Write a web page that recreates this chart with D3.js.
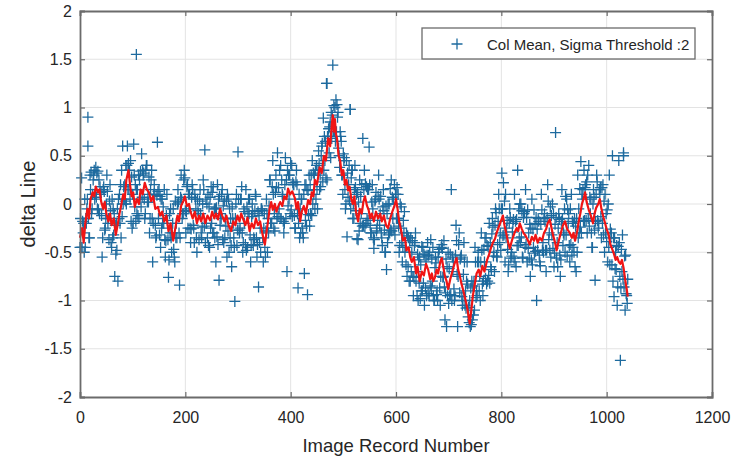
<!DOCTYPE html>
<html>
<head>
<meta charset="utf-8">
<script src="https://cdn.jsdelivr.net/npm/d3@7"></script>
<style>
  body { margin: 0; background: #fff; }
  svg { display: block; font-family: "Liberation Sans", Arial, sans-serif; }
  .axis path, .axis line { stroke: #6b6b6b; }
  .axis text { fill: #262626; font-size: 16px; }
  .grid line { stroke: #e3e3e3; }
</style>
</head>
<body>
<div id="chart"></div>
<script>
// tick values
var xTicks = [0, 200, 400, 600, 800, 1000, 1200];
var yTicks = [-2, -1.5, -1, -0.5, 0, 0.5, 1, 1.5, 2];

// col mean per image record, read in three interleaved passes
// pass A: records 0, 3, 6 ...   pass B: records 1, 4, 7 ...   pass C: records 2, 5, 8 ...
var recordStep = 3;
var colMeanA = [
  -0.45, 0.27, -0.3, 0.05, -0.2, 0.6, -0.35, 0.33, 0.1, 0.35,
  0.38, -0.05, 0.25, 0.1, -0.55, 0.18, -0.25, 0.3, -0.15, 0.2,
  -0.45, -0.05, -0.75, -0.2, -0.8, 0.1, -0.35, 0.6, 0.05, 0.4,
  0.6, 0.15, 0.45, -0.25, 0.62, 0.2, -0.1, 0.3, 0.05, 0.52,
  0.3, -0.15, 0.4, 0.1, -0.3, 0.25, -0.6, 0.2, -0.35, 0.64,
  0.15, -0.45, 0.05, -0.2, -0.55, 0.1, -0.76, -0.3, -0.5, -0.05,
  -0.6, -0.2, 0.15, -0.84, 0.3, -0.1, 0.35, -0.3, 0.2, -0.05,
  -0.4, 0.2, -0.25, 0.05, -0.5, -0.1, 0.15, -0.35, 0.25, 0.56,
  -0.2, 0.1, -0.45, 0.18, -0.3, -0.05, -0.6, 0.2, -0.79, -0.1,
  0.15, -0.4, -0.15, -0.55, 0.05, -0.35, -0.65, -0.2, -1.01, 0.1,
  0.54, -0.3, 0.05, -0.5, -0.2, 0.15, -0.45, -0.1, -0.6, 0.0,
  -0.35, 0.1, -0.55, -0.86, -0.25, -0.05, -0.6, -0.45, 0.05, -0.15,
  0.25, -0.2, 0.45, -0.1, 0.3, 0.53, -0.05, 0.4, 0.1, -0.3,
  0.48, -0.7, 0.3, -0.1, 0.4, 0.2, -0.25, 0.35, -0.87, -0.35,
  0.05, -0.3, -0.72, 0.2, -0.94, 0.3, -0.1, 0.45, 0.1, 0.35,
  0.15, 0.55, 0.3, 0.6, 0.89, 0.45, 1.25, 0.7, 0.8, 0.95,
  1.44, 0.75, 1.08, 0.9, 0.5, 0.7, 0.3, 0.45, -0.05, -0.34,
  0.2, 0.98, 0.35, 0.0, 0.4, 0.1, -0.37, 0.25, -0.1, 0.68,
  0.35, -0.2, 0.15, 0.59, -0.3, 0.2, -0.46, 0.05, -0.25, 0.3,
  -0.1, -0.35, 0.15, -0.5, -0.68, 0.0, -0.3, 0.25, -0.15, 0.2,
  0.1, -0.15, -0.5, -0.25, -0.6, -0.3, -0.45, -0.75, -0.35, -0.8,
  -0.5, -0.95, -0.4, -0.7, -1.0, -0.55, -0.9, -0.45, -1.05, -0.6,
  -0.4, -0.95, -0.37, -0.8, -1.0, -0.55, -0.9, -0.5, -1.05, -0.42,
  -0.75, -1.2, -1.27, -0.5, -0.95, 0.15, -0.7, -1.0, -0.22, -1.27,
  -0.3, -0.55, -1.05, -0.4, -0.9, -0.6, -1.07, -1.27, -0.8, -1.15,
  -0.45, -0.9, -0.5, -0.75, -0.3, -0.95, -0.6, -0.35, -0.8, -0.2,
  -0.65, -0.15, -0.5, -0.05, -0.55, 0.1, -0.3, 0.32, 0.22, -0.6,
  -0.25, -0.7, -0.05, -0.5, -0.2, 0.1, -0.65, 0.35, -0.35, 0.0,
  -0.55, -0.1, 0.15, -0.6, -0.3, -0.75, 0.05, -0.45, -0.2, -1.0,
  -0.15, -0.6, 0.1, -0.4, -0.1, -0.7, 0.2, -0.3, -0.55, 0.0,
  -0.65, 0.74, -0.4, -0.1, -0.75, 0.15, -0.3, -0.5, 0.05, -0.2,
  -0.6, 0.1, -0.45, -0.15, -0.7, 0.3, -0.3, 0.44, 0.05, 0.35,
  0.2, -0.3, 0.4, -0.1, -0.45, 0.15, -0.79, 0.3, -0.25, 0.1,
  -0.35, 0.2, -0.5, -0.1, -0.6, 0.3, -0.35, 0.5, -0.96, -0.5,
  -1.05, 0.45, -1.62, -0.7, 0.53, -1.1, -0.95
];
var colMeanB = [
  -0.15, -0.45, -0.2, -0.45, -0.05, -0.15, 0.3, -0.1, 0.25, 0.05,
  0.07, 0.34, -0.1, 0.12, -0.35, 0.13, -0.15, 0.13, -0.37, -0.07,
  0.05, -0.32, -0.22, -0.48, 0.05, -0.2, 0.35, 0.0, 0.2, 0.0,
  0.15, 0.35, -0.18, 0.1, 0.3, -0.18, 0.15, -0.15, 0.34, 0.07,
  0.32, -0.1, 0.4, 0.02, -0.15, 0.35, -0.2, 0.1, -0.33, 0.13,
  -0.32, 0.05, -0.2, 0.15, -0.38, -0.17, -0.58, -0.05, -0.3, -0.47,
  0.03, -0.35, 0.02, -0.35, 0.05, -0.1, 0.27, -0.08, -0.25, 0.1,
  -0.26, 0.15, -0.4, -0.05, 0.05, -0.37, -0.1, -0.24, 0.15, -0.4,
  0.0, -0.43, 0.07, -0.2, 0.18, -0.35, -0.04, -0.42, 0.08, -0.15,
  -0.37, 0.03, -0.23, 0.1, -0.5, -0.15, -0.03, -0.35, -0.15, -0.43,
  0.05, -0.25, 0.18, -0.4, -0.08, -0.48, -0.1, 0.05, -0.43, -0.1,
  -0.37, 0.08, -0.42, -0.12, -0.5, -0.07, -0.25, -0.55, -0.1, -0.3,
  0.25, -0.2, 0.1, -0.28, 0.17, -0.13, 0.35, -0.15, 0.08, -0.2,
  -0.15, 0.35, 0.05, 0.42, -0.13, 0.2, -0.25, 0.2, -0.2, -0.05,
  0.05, -0.35, 0.2, -0.23, 0.14, -0.23, 0.3, 0.0, 0.3, 0.05,
  -0.05, 0.42, 0.18, 0.63, 0.35, 0.65, 0.25, 0.78, 0.85, 0.68,
  0.75, 1.0, 0.75, 0.95, 0.38, 0.65, 0.1, 0.48, 0.0, 0.32,
  0.4, -0.05, 0.35, -0.15, 0.17, -0.36, 0.02, -0.2, 0.2, -0.22,
  -0.24, 0.18, -0.17, 0.2, -0.3, -0.05, -0.37, 0.12, -0.17, 0.05,
  0.08, -0.43, -0.07, -0.5, -0.1, -0.32, 0.16, -0.28, 0.05, -0.32,
  -0.15, 0.1, -0.43, -0.03, -0.45, -0.08, -0.63, -0.33, -0.8, -0.35,
  -0.38, -0.76, -0.3, -0.95, -0.58, -0.98, -0.44, -0.82, -0.54, -0.95,
  -0.93, -0.5, -0.87, -0.45, -1.0, -0.61, -1.0, -0.47, -0.75, -0.46,
  -0.38, -0.92, -0.65, -1.03, -0.52, -1.0, -0.6, -0.95, -0.38, -0.75,
  -0.92, -0.53, -1.0, -0.6, -1.08, -0.83, -1.23, -0.87, -1.2, -0.8,
  -0.6, -0.95, -0.6, -1.0, -0.48, -0.8, -0.35, -0.83, -0.44, -0.82,
  -0.68, -0.24, -0.7, -0.09, -0.42, -0.05, -0.48, -0.05, -0.32, 0.1,
  -0.17, -0.63, -0.14, -0.54, -0.16, -0.6, -0.16, -0.43, 0.0, -0.34,
  -0.56, -0.08, -0.42, -0.06, -0.56, -0.25, -0.63, -0.06, -0.49, -0.26,
  -0.18, -0.64, -0.06, -0.5, -0.18, -0.48, 0.03, -0.48, -0.12, -0.46,
  -0.51, -0.14, -0.65, -0.16, -0.58, -0.15, -0.32, 0.08, -0.54, -0.1,
  -0.05, -0.53, -0.2, -0.65, -0.15, -0.35, 0.16, -0.3, 0.15, -0.17,
  -0.17, 0.3, -0.23, 0.05, -0.45, 0.07, -0.18, 0.23, -0.2, 0.17,
  0.17, -0.32, 0.1, -0.39, 0.0, -0.63, -0.3, -0.8, -0.35, -0.68,
  -0.86, -0.4, -0.87, -0.32, -0.86, -0.53, -1.03
];
var colMeanC = [
  -0.45, -0.18, -0.5, -0.15, 0.05, -0.35, 0.15, -0.05, 0.3, 0.1,
  0.32, -0.06, 0.18, -0.12, 0.15, -0.27, 0.0, -0.2, 0.03, -0.4,
  -0.35, -0.1, -0.52, -0.05, -0.15, 0.2, -0.13, 0.18, 0.03, 0.4,
  0.42, 0.05, 0.28, -0.2, -0.03, 0.15, -0.12, 0.25, -0.03, 0.35,
  0.05, 0.35, 0.02, 0.28, 0.15, -0.15, 0.1, -0.22, 0.09, -0.15,
  0.08, -0.25, -0.03, -0.37, -0.12, -0.37, -0.1, -0.35, -0.2, -0.55,
  -0.35, 0.0, -0.3, 0.07, -0.15, 0.25, -0.07, 0.18, 0.1, -0.25,
  0.07, -0.22, 0.1, -0.35, -0.07, 0.03, -0.3, 0.0, -0.23, 0.05,
  -0.35, -0.03, -0.25, 0.12, -0.3, -0.05, -0.34, 0.05, -0.22, 0.1,
  -0.02, -0.35, 0.03, -0.28, -0.05, -0.43, -0.15, -0.45, 0.0, -0.27,
  -0.27, 0.05, -0.3, -0.05, -0.42, -0.03, 0.05, -0.32, -0.13, -0.43,
  -0.07, -0.35, -0.08, -0.4, -0.05, -0.35, -0.1, -0.28, -0.5, -0.02,
  -0.2, 0.18, -0.25, 0.12, -0.15, 0.17, -0.15, 0.25, -0.18, 0.2,
  0.25, -0.02, 0.3, -0.06, 0.22, -0.12, 0.23, -0.1, 0.1, -0.3,
  -0.25, 0.1, -0.17, 0.15, -0.11, 0.2, -0.12, 0.32, -0.05, 0.4,
  0.35, 0.15, 0.5, 0.23, 0.7, 0.27, 0.7, 0.53, 0.48, 0.92,
  1.02, 0.65, 1.03, 0.58, 0.75, 0.3, 0.52, 0.15, 0.45, 0.07,
  0.03, 0.27, -0.15, 0.15, -0.07, 0.12, -0.28, 0.08, -0.23, 0.15,
  0.21, -0.15, 0.15, -0.22, 0.02, -0.35, 0.03, -0.28, 0.08, -0.22,
  -0.3, -0.03, -0.27, -0.02, -0.4, 0.0, -0.27, 0.07, -0.25, 0.1,
  0.17, -0.23, 0.0, -0.4, -0.17, -0.5, -0.3, -0.65, -0.38, -0.7,
  -0.75, -0.43, -0.8, -0.52, -0.82, -0.63, -0.9, -0.52, -0.87, -0.53,
  -0.53, -0.85, -0.57, -0.95, -0.66, -0.94, -0.55, -0.87, -0.45, -0.76,
  -0.86, -0.57, -0.95, -0.67, -0.94, -0.55, -0.88, -0.53, -0.73, -0.42,
  -0.57, -0.96, -0.73, -1.05, -0.8, -1.17, -1.0, -1.25, -0.85, -1.1,
  -0.97, -0.6, -0.9, -0.6, -0.83, -0.47, -0.77, -0.43, -0.74, -0.4,
  -0.31, -0.54, -0.22, -0.54, -0.18, -0.4, -0.05, -0.33, 0.03, -0.35,
  -0.47, -0.2, -0.56, -0.29, -0.56, -0.18, -0.43, -0.05, -0.4, -0.07,
  -0.14, -0.45, -0.14, -0.46, -0.21, -0.58, -0.26, -0.51, -0.14, -0.48,
  -0.53, -0.21, -0.48, -0.15, -0.48, -0.14, -0.37, -0.03, -0.32, -0.1,
  -0.21, -0.56, -0.25, -0.53, -0.18, -0.43, -0.05, -0.32, -0.06, -0.43,
  -0.42, -0.18, -0.5, -0.23, -0.5, -0.05, -0.24, 0.1, -0.18, 0.17,
  0.23, -0.15, 0.07, -0.3, 0.0, -0.27, 0.1, -0.17, 0.15, -0.13,
  -0.2, 0.03, -0.3, -0.06, -0.45, -0.26, -0.63, -0.35, -0.67, -0.43,
  -0.44, -0.75, -0.47, -0.78, -0.54, -0.93, -0.78
];

// isolated points that stand out from the band
var outliers = [[15, 0.9], [107, 1.55], [469, 1.25], [513, 0.98], [1032, 0.5]];

// red running mean [record, delta]
var runningMean = [
  [0,-0.35],[4,-0.25],[7,-0.4],[10,-0.2],[14,-0.05],[17,-0.15],[20,0.05],[24,0.12],[27,0.08],[30,0.18],
  [34,0.12],[37,0.15],[40,0.03],[44,-0.05],[47,0.02],[50,-0.1],[54,-0.18],[57,-0.1],[60,-0.22],[64,-0.15],
  [68,-0.32],[72,-0.2],[75,-0.1],[78,-0.02],[82,0.1],[85,0.05],[88,0.25],[92,0.35],[95,0.2],[98,0.08],
  [101,0.12],[104,-0.03],[108,0.05],[112,0.0],[115,0.15],[119,0.1],[123,0.22],[127,0.15],[131,0.12],[135,0.03],
  [139,0.08],[143,-0.05],[148,-0.03],[152,-0.12],[156,-0.08],[160,-0.18],[164,-0.12],[168,-0.28],[172,-0.2],[177,-0.38],
  [181,-0.25],[185,-0.12],[188,-0.18],[192,-0.02],[196,0.03],[199,0.08],[203,-0.02],[207,0.0],[210,-0.08],[214,-0.15],
  [218,-0.08],[222,-0.2],[226,-0.12],[230,-0.18],[234,-0.1],[238,-0.2],[242,-0.12],[247,-0.17],[251,-0.08],[255,-0.15],
  [258,-0.1],[262,-0.16],[266,-0.05],[270,-0.12],[274,-0.18],[278,-0.12],[282,-0.22],[287,-0.28],[291,-0.18],[295,-0.22],
  [299,-0.12],[303,-0.18],[306,-0.1],[310,-0.16],[314,-0.22],[318,-0.14],[322,-0.28],[326,-0.2],[330,-0.25],[334,-0.15],
  [338,-0.22],[342,-0.18],[346,-0.3],[351,-0.42],[354,-0.3],[357,-0.18],[360,-0.05],[363,0.02],[366,-0.06],[370,0.0],
  [373,-0.08],[376,-0.03],[380,0.02],[384,-0.02],[388,0.08],[392,0.05],[395,0.16],[399,0.1],[403,0.13],[408,0.06],
  [411,-0.05],[414,0.02],[418,-0.18],[421,-0.08],[425,-0.02],[429,-0.1],[433,0.04],[437,0.0],[440,0.12],[443,0.08],
  [446,0.25],[450,0.2],[455,0.38],[459,0.32],[463,0.5],[467,0.45],[471,0.68],[475,0.6],[478,0.82],[480,0.92],
  [482,0.75],[484,0.88],[486,0.72],[488,0.68],[491,0.5],[494,0.45],[497,0.3],[500,0.35],[503,0.2],[506,0.25],
  [509,0.14],[512,0.18],[515,0.05],[518,0.0],[521,0.08],[524,-0.08],[528,-0.18],[531,-0.05],[535,-0.1],[538,0.02],
  [541,0.08],[545,-0.02],[548,-0.06],[551,-0.15],[554,-0.1],[558,-0.18],[562,-0.08],[566,-0.15],[570,-0.1],[573,-0.18],
  [577,-0.12],[581,-0.22],[585,-0.25],[589,-0.15],[593,-0.08],[597,-0.02],[600,0.05],[603,-0.05],[606,-0.18],[610,-0.28],
  [613,-0.38],[617,-0.35],[620,-0.48],[624,-0.45],[627,-0.55],[630,-0.6],[634,-0.55],[638,-0.72],[641,-0.65],[645,-0.8],
  [649,-0.7],[653,-0.74],[657,-0.62],[661,-0.68],[665,-0.78],[668,-0.72],[671,-0.8],[674,-0.76],[677,-0.68],[680,-0.72],
  [684,-0.6],[687,-0.56],[690,-0.66],[693,-0.75],[696,-0.8],[699,-0.88],[703,-0.78],[707,-0.7],[711,-0.62],[715,-0.56],
  [718,-0.68],[721,-0.74],[724,-0.82],[727,-0.88],[730,-0.95],[733,-1.02],[736,-1.1],[740,-1.24],[743,-1.1],[746,-0.95],
  [749,-0.85],[753,-0.72],[757,-0.68],[760,-0.75],[764,-0.64],[768,-0.7],[773,-0.58],[777,-0.52],[780,-0.46],[784,-0.4],
  [788,-0.36],[791,-0.3],[795,-0.24],[799,-0.18],[803,-0.12],[806,-0.22],[810,-0.32],[813,-0.4],[816,-0.46],[820,-0.38],
  [825,-0.3],[829,-0.25],[832,-0.28],[835,-0.2],[839,-0.26],[842,-0.3],[845,-0.32],[849,-0.36],[854,-0.42],[858,-0.34],
  [862,-0.38],[865,-0.32],[869,-0.4],[873,-0.35],[877,-0.38],[881,-0.3],[885,-0.26],[888,-0.2],[892,-0.16],[895,-0.24],
  [898,-0.32],[902,-0.4],[905,-0.48],[909,-0.38],[913,-0.3],[917,-0.22],[921,-0.18],[925,-0.26],[930,-0.3],[934,-0.35],
  [937,-0.3],[940,-0.38],[944,-0.28],[947,-0.18],[950,-0.1],[953,0.0],[956,0.05],[959,0.12],[962,0.02],[966,-0.06],
  [970,-0.12],[974,-0.2],[977,-0.1],[980,-0.04],[984,0.0],[987,0.05],[990,-0.05],[994,-0.14],[997,-0.2],[1000,-0.26],
  [1004,-0.32],[1007,-0.42],[1010,-0.46],[1014,-0.52],[1017,-0.58],[1020,-0.55],[1023,-0.6],[1026,-0.62],[1029,-0.58],[1032,-0.66],
  [1035,-0.78],[1038,-0.88],[1040,-0.96]
];

var legendLabel = "Col Mean, Sigma Threshold :2";

var margin = { top: 11, right: 31, bottom: 62, left: 80 },
    width = 743 - margin.left - margin.right,
    height = 459 - margin.top - margin.bottom;

var svg = d3.select("#chart").append("svg")
    .attr("width", 743)
    .attr("height", 459);

svg.append("rect").attr("width", 743).attr("height", 459).attr("fill", "#fff");

var g = svg.append("g")
    .attr("transform", "translate(" + margin.left + "," + margin.top + ")");

var x = d3.scaleLinear().domain([0, 1200]).range([0, width]);
var y = d3.scaleLinear().domain([-2, 2]).range([height, 0]);

// grid
g.append("g").attr("class", "grid")
    .selectAll("line").data(xTicks.slice(1, -1)).join("line")
    .attr("x1", d => x(d)).attr("x2", d => x(d))
    .attr("y1", 0).attr("y2", height);
g.append("g").attr("class", "grid")
    .selectAll("line").data(yTicks.slice(1, -1)).join("line")
    .attr("x1", 0).attr("x2", width)
    .attr("y1", d => y(d)).attr("y2", d => y(d));

// points, each pass shifted by its record offset
function toPoints(arr, offset) {
    return arr.map((v, i) => [i * recordStep + offset, v]);
}
var points = toPoints(colMeanA, 0)
    .concat(toPoints(colMeanB, 1))
    .concat(toPoints(colMeanC, 2))
    .concat(outliers);
var plus = "M-5.5,0H5.5M0,-5.5V5.5";

g.append("g")
    .selectAll("path").data(points).join("path")
    .attr("d", plus)
    .attr("transform", d => "translate(" + x(d[0]) + "," + y(d[1]) + ")")
    .attr("fill", "none")
    .attr("stroke", "#1d6a9e")
    .attr("stroke-width", 1.3);

// running mean
var line = d3.line()
    .x(d => x(d[0]))
    .y(d => y(d[1]));

g.append("path")
    .datum(runningMean)
    .attr("d", line)
    .attr("fill", "none")
    .attr("stroke", "#f01414")
    .attr("stroke-width", 2.2)
    .attr("stroke-linejoin", "round");

// axes, ticks pointing inward like matlab, plain hyphen for negatives
var fmt = d => String(d);
g.append("g").attr("class", "axis")
    .attr("transform", "translate(0," + height + ")")
    .call(d3.axisBottom(x).tickValues(xTicks).tickSize(-5).tickPadding(15).tickFormat(fmt));
g.append("g").attr("class", "axis")
    .call(d3.axisTop(x).tickValues(xTicks).tickSize(-5).tickFormat(""));
g.append("g").attr("class", "axis")
    .call(d3.axisLeft(y).tickValues(yTicks).tickSize(-5).tickPadding(8).tickFormat(fmt));
g.append("g").attr("class", "axis")
    .attr("transform", "translate(" + width + ",0)")
    .call(d3.axisRight(y).tickValues(yTicks).tickSize(-5).tickFormat(""));

g.selectAll(".axis path.domain").attr("stroke-width", 1.8);
g.selectAll(".axis .tick line").attr("stroke-width", 1.2);

// labels
svg.append("text")
    .attr("x", margin.left + width / 2)
    .attr("y", 452)
    .attr("text-anchor", "middle")
    .attr("font-size", 18.5)
    .attr("fill", "#262626")
    .text("Image Record Number");

svg.append("text")
    .attr("transform", "translate(35," + (margin.top + height / 2) + ") rotate(-90)")
    .attr("text-anchor", "middle")
    .attr("font-size", 20)
    .attr("fill", "#262626")
    .text("delta Line");

// legend
var legend = svg.append("g").attr("transform", "translate(422,28)");
legend.append("rect")
    .attr("width", 273).attr("height", 31)
    .attr("fill", "#fff")
    .attr("stroke", "#6b6b6b")
    .attr("stroke-width", 1.3);
legend.append("path")
    .attr("d", plus)
    .attr("transform", "translate(35,16)")
    .attr("fill", "none")
    .attr("stroke", "#1d6a9e")
    .attr("stroke-width", 1.3);
legend.append("text")
    .attr("x", 65).attr("y", 22)
    .attr("font-size", 15)
    .attr("fill", "#262626")
    .text(legendLabel);
</script>
</body>
</html>
